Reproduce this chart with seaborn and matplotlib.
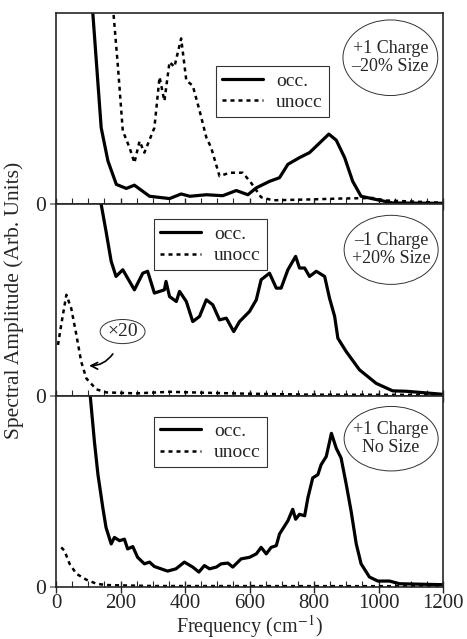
import numpy as np
import matplotlib
matplotlib.use("Agg")
import matplotlib.pyplot as plt
import seaborn as sns
from matplotlib.patches import Ellipse
from matplotlib.ticker import MultipleLocator

# Panel 1: +1 charge, -20% size
p1_occ_f = [100, 114, 140, 161, 187, 218, 243, 290, 352, 388, 415, 466, 517, 559, 595, 621, 662,
            693, 719, 755, 786, 817, 846, 869, 895, 920, 946, 993, 1044, 1200]
p1_occ_a = [140, 100, 40, 22.6, 10.4, 8.3, 10, 4.2, 3, 5.4, 4.2, 5, 4.5, 7.2, 5, 8.6, 12,
            13.9, 20.9, 24.4, 27, 32, 36.7, 33.5, 24.4, 12, 4.2, 2.5, 0.7, 0.5]
p1_un_f = [170, 178, 192, 207, 228, 243, 259, 274, 305, 321, 336, 352, 367, 388, 404, 424, 445,
           466, 481, 507, 538, 579, 605, 636, 672, 776, 879, 982, 1023, 1200]
p1_un_a = [115, 100, 71.8, 38.4, 29.6, 21.7, 33, 27, 40, 66.5, 54, 74.4, 71.8, 86.7, 64.7, 62, 49,
           35, 29.6, 14.7, 16.5, 16.5, 11.2, 3.7, 2.1, 2.5, 3, 3.3, 2, 0.8]

# Panel 2: -1 charge, +20% size (unocc scaled x20)
p2_occ_f = [130, 140, 155, 171, 186, 207, 243, 269, 284, 305, 336, 341, 352, 373, 383, 404, 424,
            445, 466, 486, 507, 528, 551, 569, 600, 621, 636, 662, 683, 698, 719, 743, 755, 771,
            786, 807, 833, 848, 864, 874, 900, 941, 993, 1044, 1085, 1200]
p2_occ_a = [115, 100, 85.9, 70.2, 62.3, 65.8, 55.3, 64, 65, 53.6, 55.3, 59.7, 51.8, 49.2, 54.5,
            49.2, 38.7, 41.4, 50.1, 47.5, 39.6, 40.5, 33.5, 38.7, 44, 50.1, 60.6, 64, 56.2, 56.2,
            65.8, 72.8, 66.7, 66.7, 62.3, 65, 62.3, 51, 41.4, 30, 23, 13.5, 6.4, 2.5, 2.3, 0.7]
p2_un_f = [6, 16, 32, 47, 63, 78, 94, 125, 156, 249, 352, 466, 600, 800, 1200]
p2_un_a = [26.5, 37, 52.7, 45.7, 31.8, 17.8, 9, 3.3, 1.7, 1.2, 2, 1.5, 1, 0.5, 0.4]

# Panel 3: +1 charge, no size
p3_occ_f = [100, 106, 119, 130, 145, 155, 171, 181, 197, 212, 222, 238, 253, 274, 290, 305, 346,
            372, 398, 424, 443, 460, 476, 497, 512, 533, 548, 574, 600, 621, 636, 652, 667, 683,
            693, 719, 734, 743, 755, 771, 781, 796, 812, 822, 838, 854, 869, 884, 900, 915, 931,
            946, 972, 998, 1034, 1065, 1200]
p3_occ_a = [110, 100, 76, 58.7, 41.5, 31.1, 22.5, 25.9, 24.2, 25, 19.9, 21.1, 15.5, 12.1, 13, 10.7,
            8.3, 9.5, 13, 10.4, 7.8, 11.2, 9.5, 10.4, 12.1, 12.5, 10.4, 14.7, 15.5, 17.3, 20.7,
            17.3, 20.7, 21.6, 27.7, 34.6, 40.6, 35.4, 38, 37.2, 46.6, 57, 58.7, 63.9, 68.2, 80.3,
            72.5, 67.4, 53.6, 39.7, 22.5, 12.1, 5.2, 3.1, 3.1, 1.7, 1.2]
p3_un_f = [16, 26, 42, 63, 94, 125, 156, 300, 1200]
p3_un_a = [20.7, 19, 12.1, 6.9, 3.8, 1.7, 1, 0.5, 0.4]

panels = [
    (p1_occ_f, p1_occ_a, p1_un_f, p1_un_a, "+1 Charge\n\u201320% Size"),
    (p2_occ_f, p2_occ_a, p2_un_f, p2_un_a, "\u20131 Charge\n+20% Size"),
    (p3_occ_f, p3_occ_a, p3_un_f, p3_un_a, "+1 Charge\nNo Size"),
]
legend_pos = [(0.413, 0.721), (0.253, 0.921), (0.253, 0.891)]
ellipse_pos = [(0.864, 0.766, 0.245, 0.395), (0.866, 0.762, 0.243, 0.361), (0.866, 0.775, 0.243, 0.337)]

sns.set_theme(style="ticks")
plt.rcParams["font.family"] = ["Liberation Serif", "DejaVu Serif"]
plt.rcParams["mathtext.fontset"] = "stix"

fig, axes = plt.subplots(3, 1, figsize=(4.67, 6.39), dpi=100, sharex=True)
fig.subplots_adjust(left=0.12, right=0.9486, top=0.9797, bottom=0.0814, hspace=0)

for i, (ax, (of, oa, uf, ua, label)) in enumerate(zip(axes, panels)):
    sns.lineplot(x=of, y=oa, ax=ax, color="black", lw=2.3, label="occ.", sort=False)
    sns.lineplot(x=uf, y=ua, ax=ax, color="black", lw=1.8, label="unocc", sort=False)
    ax.lines[1].set_linestyle((0, (1.6, 1.6)))
    ax.set_xlim(0, 1200)
    ax.set_ylim(0, 100)
    ax.set_yticks([0])
    ax.set_yticklabels(["0"])
    ax.tick_params(axis="y", length=4, color="gray", labelsize=15.5)
    ax.xaxis.set_major_locator(MultipleLocator(200))
    ax.xaxis.set_minor_locator(MultipleLocator(50))
    ax.tick_params(axis="x", which="major", direction="inout", length=8, width=1, labelsize=15, pad=1)
    ax.tick_params(axis="x", which="minor", direction="in", length=4, width=0.8)
    for s in ax.spines.values():
        s.set_linewidth(1.2)
    leg = ax.legend(loc="upper left", bbox_to_anchor=legend_pos[i], fontsize=14, frameon=True,
                    fancybox=False, edgecolor="black", handlelength=2.1, borderpad=0.3,
                    labelspacing=0.2, handletextpad=0.7, borderaxespad=0)
    leg.get_frame().set_linewidth(0.8)
    cx, cy, w, h = ellipse_pos[i]
    ax.add_patch(Ellipse((cx, cy), w, h, transform=ax.transAxes, fill=False, edgecolor="#333333", lw=0.7))
    ax.text(cx, cy, label, transform=ax.transAxes, ha="center", va="center", fontsize=13, linespacing=1.1)
    ax.set_xlabel("")
    ax.set_ylabel("")

# x20 marker on the middle panel
ax = axes[1]
ax.add_patch(Ellipse((0.172, 0.335), 0.116, 0.126, transform=ax.transAxes, fill=False,
                     edgecolor="#333333", lw=0.7))
ax.text(0.172, 0.335, "\u00d720", transform=ax.transAxes, ha="center", va="center", fontsize=14)
ax.annotate("", xy=(94, 15.7), xytext=(181, 23),
            arrowprops=dict(arrowstyle="->", color="black", lw=1.2, connectionstyle="arc3,rad=-0.3"))

for ax in axes[:2]:
    ax.tick_params(axis="x", labelbottom=False)

axes[2].set_xlabel(r"Frequency (cm$^{-1}$)", fontsize=14.5, labelpad=0)
fig.text(0.03, 0.53, "Spectral Amplitude (Arb. Units)", rotation=90, ha="center", va="center", fontsize=15.5)

plt.savefig("out.png", dpi=100)
